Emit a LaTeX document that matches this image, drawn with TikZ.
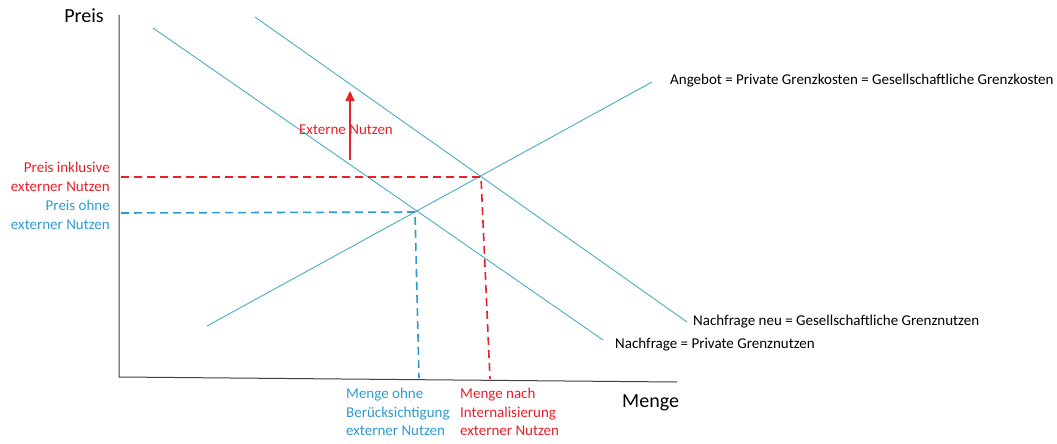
\documentclass[tikz,border=0pt]{standalone}
\usepackage{fontspec}
\setmainfont{Carlito}
\usetikzlibrary{arrows.meta}
\definecolor{curve}{HTML}{4BACC6}
\definecolor{bluetxt}{HTML}{2E9BD0}
\definecolor{redtxt}{HTML}{E8202A}
\definecolor{axisc}{HTML}{404040}
\tikzset{
  curveline/.style={curve, line width=0.9pt},
  axisline/.style={axisc, line width=1pt},
  reddash/.style={redtxt, line width=1.6pt, dash pattern=on 8pt off 5pt},
  bluedash/.style={bluetxt, line width=1.6pt, dash pattern=on 8pt off 5pt},
  lbl/.style={font=\fontsize{15}{18.5}\selectfont, inner sep=0pt},
  axlbl/.style={font=\fontsize{20}{24}\selectfont, inner sep=0pt},
}
\begin{document}
\begin{tikzpicture}[x=1pt, y=-1pt]
\useasboundingbox (0,0) rectangle (1057,444);
% axes
\coordinate (ytop) at (119,15);
\coordinate (orig) at (119,377);
\coordinate (xend) at (677,382);
\draw[axisline] (ytop) -- (orig) -- (xend);
\node[axlbl, anchor=east] (preis) at (104,16) {Preis};
\node[axlbl, anchor=west] (menge) at (622,403) {Menge};
% curves
\coordinate (d1) at (153,28);
\coordinate (d2) at (603,340);
\coordinate (n1) at (255,17);
\coordinate (n2) at (687,322);
\coordinate (s1) at (207,326);
\coordinate (s2) at (652,82);
\draw[curveline] (d1) -- (d2);
\draw[curveline] (n1) -- (n2);
\draw[curveline] (s1) -- (s2);
% equilibria
\coordinate (eqA) at (415,212);
\coordinate (eqB) at (481,177);
\coordinate (yA) at (121,213);
\coordinate (yB) at (121,177);
\coordinate (xA) at (419,378);
\coordinate (xB) at (490,379);
\draw[reddash] (yB) -- (eqB) -- (xB);
\draw[bluedash] (yA) -- (eqA) -- (xA);
% external benefit arrow
\coordinate (arA) at (350,160);
\coordinate (arB) at (350,91);
\draw[redtxt, line width=1.6pt, -{Triangle[length=10pt, width=9pt]}] (arA) -- (arB);
\node[lbl, text=redtxt] (ext) at (346,130) {Externe Nutzen};
% labels
\node[lbl, anchor=west] (angebot) at (670,81) {Angebot = Private Grenzkosten = Gesellschaftliche Grenzkosten};
\node[lbl, anchor=west] (nneu) at (693,322) {Nachfrage neu = Gesellschaftliche Grenznutzen};
\node[lbl, anchor=west] (nalt) at (615,345) {Nachfrage = Private Grenznutzen};
\node[lbl, text=redtxt, anchor=east, align=right] (pinkl) at (110,177) {Preis inklusive\\externer Nutzen};
\node[lbl, text=bluetxt, anchor=east, align=right] (pohne) at (110,215) {Preis ohne\\externer Nutzen};
\node[lbl, text=bluetxt, anchor=north west, align=left] (mohne) at (346,388) {Menge ohne\\Berücksichtigung\\externer Nutzen};
\node[lbl, text=redtxt, anchor=north west, align=left] (mnach) at (460,388) {Menge nach\\Internalisierung\\externer Nutzen};
\end{tikzpicture}
\end{document}
